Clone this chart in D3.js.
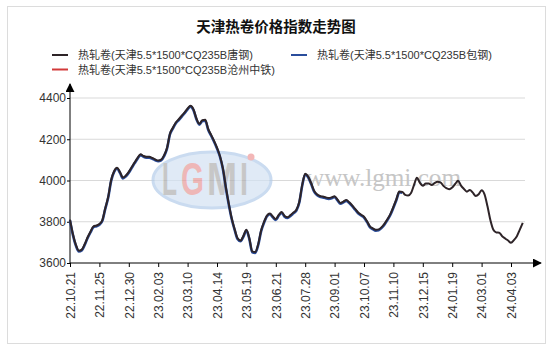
<!DOCTYPE html>
<html>
<head>
<meta charset="utf-8">
<script src="https://cdn.jsdelivr.net/npm/d3@7"></script>
<style>
  body { margin: 0; background: #fff; }
  svg { display: block; font-family: 'Liberation Sans', 'Noto Sans CJK SC', sans-serif; }
</style>
</head>
<body>
<svg id="chart" width="554" height="355"></svg>
<script>
const title = '天津热卷价格指数走势图';
const seriesNames = [
  '热轧卷(天津5.5*1500*CQ235B唐钢)',
  '热轧卷(天津5.5*1500*CQ235B包钢)',
  '热轧卷(天津5.5*1500*CQ235B沧州中铁)',
];
const tickLabels = ['22.10.21', '22.11.25', '22.12.30', '23.02.03', '23.03.10', '23.04.14',
  '23.05.19', '23.06.21', '23.07.28', '23.09.01', '23.10.07', '23.11.10', '23.12.15',
  '24.01.19', '24.03.01', '24.04.03'];
const pointsPerTick = 10;
const yTicks = [3600, 3800, 4000, 4200, 4400];

// 唐钢
const tangValues = [
  3810, 3739, 3688, 3660, 3665, 3691, 3725, 3753, 3778, 3782,
  3789, 3808, 3866, 3921, 4002, 4045, 4062, 4041, 4014, 4024,
  4042, 4065, 4088, 4110, 4127, 4119, 4115, 4115, 4109, 4102,
  4097, 4101, 4122, 4158, 4227, 4256, 4281, 4297, 4314, 4330,
  4349, 4362, 4345, 4301, 4275, 4292, 4294, 4250, 4221, 4192,
  4159, 4119, 4060, 3969, 3888, 3817, 3764, 3720, 3709, 3732,
  3761, 3720, 3656, 3653, 3690, 3757, 3799, 3830, 3840, 3825,
  3813, 3833, 3847, 3828, 3822, 3832, 3845, 3858, 3897, 3980,
  4033, 4019, 3988, 3951, 3933, 3925, 3922, 3918, 3915, 3918,
  3924, 3907, 3891, 3898, 3905, 3894, 3879, 3862, 3845, 3834,
  3824, 3803, 3778, 3768, 3761, 3763, 3774, 3791, 3813, 3838,
  3872, 3908, 3947, 3945, 3930, 3927, 3939, 3978, 4013, 3990,
  3974, 3985, 3985, 3978, 3987, 3994, 3991, 3974, 3963, 3958,
  3966, 3983, 3999, 3975, 3959, 3946, 3954, 3941, 3925, 3933,
  3953, 3933, 3875, 3807, 3761, 3748, 3747, 3730, 3719, 3709,
  3698, 3711, 3730, 3762, 3795,
];
// 包钢 runs under the black line and stops around 23.12
const baoValues = [
  3810, 3739, 3688, 3660, 3665, 3691, 3725, 3753, 3778, 3782,
  3789, 3808, 3866, 3921, 4002, 4045, 4062, 4041, 4014, 4024,
  4042, 4065, 4088, 4110, 4127, 4119, 4115, 4115, 4109, 4102,
  4097, 4101, 4122, 4158, 4227, 4256, 4281, 4297, 4314, 4330,
  4349, 4362, 4345, 4301, 4275, 4292, 4294, 4250, 4221, 4192,
  4159, 4119, 4060, 3969, 3888, 3817, 3764, 3720, 3709, 3732,
  3761, 3720, 3656, 3653, 3690, 3757, 3799, 3830, 3840, 3825,
  3813, 3833, 3847, 3828, 3822, 3832, 3845, 3858, 3897, 3980,
  4033, 4019, 3988, 3951, 3933, 3925, 3922, 3918, 3915, 3918,
  3924, 3907, 3891, 3898, 3905, 3894, 3879, 3862, 3845, 3834,
  3824, 3803, 3778, 3768, 3761, 3763, 3774, 3791, 3813, 3838,
  3872, 3908, 3947, 3945,
];
// 沧州中铁 has nothing visible on the chart
const cangValues = [];

const colors = ['#2e2428', '#2a4d9c', '#d23a3a'];
const series = [cangValues, baoValues, tangValues];
const seriesColors = [colors[2], colors[1], colors[0]];

const plot = {left: 70, right: 525, top: 98, bottom: 263};

const svg = d3.select('#chart');

// frame
svg.append('rect')
  .attr('x', 7.5).attr('y', 6.5)
  .attr('width', 538).attr('height', 337)
  .attr('fill', 'none')
  .attr('stroke', '#dcdcdc');

svg.append('text')
  .attr('x', 276).attr('y', 32)
  .attr('text-anchor', 'middle')
  .attr('font-size', 14.5)
  .attr('font-weight', 'bold')
  .attr('fill', '#111')
  .text(title);

// legend: two on the first row, one on the second
const legendSlots = [{x: 52, y: 55}, {x: 291, y: 55}, {x: 52, y: 69.5}];
const legend = svg.append('g')
  .selectAll('g')
  .data(seriesNames)
  .join('g')
  .attr('transform', (_, i) => `translate(${legendSlots[i].x},${legendSlots[i].y})`);
legend.append('line')
  .attr('x2', 16)
  .attr('stroke', (_, i) => colors[i])
  .attr('stroke-width', 2);
legend.append('text')
  .attr('x', 26).attr('y', 4)
  .attr('font-size', 11)
  .attr('fill', '#333')
  .text(d => d);

const x = d3.scaleLinear()
  .domain([0, (tickLabels.length - 1) * pointsPerTick])
  .range([plot.left, 511]);
const y = d3.scaleLinear()
  .domain([yTicks[0], yTicks[yTicks.length - 1]])
  .range([plot.bottom, plot.top]);

// horizontal grid
svg.append('g')
  .selectAll('line')
  .data(yTicks.slice(1))
  .join('line')
  .attr('x1', plot.left).attr('x2', plot.right)
  .attr('y1', d => y(d)).attr('y2', d => y(d))
  .attr('stroke', '#d9d9d9');

// LGMI watermark. Each letter is squeezed with a transform so the
// boxes of the letters stay apart.
const mark = svg.append('g').attr('opacity', 0.7);
mark.append('ellipse')
  .attr('cx', 212).attr('cy', 180)
  .attr('rx', 59).attr('ry', 28)
  .attr('fill', '#d3e2f3')
  .attr('stroke', '#b4cdea')
  .attr('stroke-width', 3);
const logoLetters = [
  {c: 'L', x: 162, w: 15, fill: '#b0b0b0'},
  {c: 'G', x: 181, w: 23, fill: '#e79a9a'},
  {c: 'M', x: 207, w: 30, fill: '#b0b0b0'},
  {c: 'I', x: 240, w: 8, fill: '#b0b0b0'},
];
mark.selectAll('text.logo')
  .data(logoLetters)
  .join('text')
  .classed('logo', true)
  .attr('font-size', 46)
  .attr('font-weight', 'bold')
  .attr('fill', d => d.fill)
  .text(d => d.c)
  .attr('transform', function(d) {
    const box = this.getBBox();
    const sx = d.w / box.width;
    return `translate(${d.x},195) scale(${sx},1) translate(${-box.x},0)`;
  });
mark.append('circle')
  .attr('cx', 251).attr('cy', 157).attr('r', 3.5)
  .attr('fill', '#ee9a9a');
svg.append('text')
  .attr('x', 306).attr('y', 186)
  .attr('font-family', "'Liberation Serif', serif")
  .attr('font-size', 26)
  .attr('textLength', 155)
  .attr('lengthAdjust', 'spacingAndGlyphs')
  .attr('fill', '#c6c6c6')
  .text('www.lgmi.com');

// axes
svg.append('defs').append('marker')
  .attr('id', 'arrow')
  .attr('viewBox', '0 0 10 10')
  .attr('refX', 9).attr('refY', 5)
  .attr('markerWidth', 9).attr('markerHeight', 9)
  .attr('markerUnits', 'userSpaceOnUse')
  .attr('orient', 'auto')
  .append('path')
  .attr('d', 'M0,0L10,5L0,10z')
  .attr('fill', '#000');

const yAxis = svg.append('g')
  .attr('transform', `translate(${plot.left},0)`)
  .call(d3.axisLeft(y).tickValues(yTicks).tickFormat(d3.format('d')).tickSize(3).tickPadding(1))
  .call(g => g.select('.domain').remove());
yAxis.selectAll('text').attr('font-size', 12).attr('fill', '#333');

const xAxis = svg.append('g')
  .attr('transform', `translate(0,${plot.bottom})`)
  .call(d3.axisBottom(x)
    .tickValues(tickLabels.map((_, i) => i * pointsPerTick))
    .tickFormat((_, i) => tickLabels[i])
    .tickSize(4))
  .call(g => g.select('.domain').remove());
xAxis.selectAll('text')
  .attr('transform', 'rotate(-90)')
  .attr('text-anchor', 'end')
  .attr('x', -9).attr('y', 0)
  .attr('dy', '0.35em')
  .attr('font-size', 12)
  .attr('fill', '#333');

svg.append('line')
  .attr('x1', plot.left).attr('x2', plot.left)
  .attr('y1', plot.bottom).attr('y2', 84)
  .attr('stroke', '#000')
  .attr('marker-end', 'url(#arrow)');
svg.append('line')
  .attr('x1', plot.left).attr('x2', 541)
  .attr('y1', plot.bottom).attr('y2', plot.bottom)
  .attr('stroke', '#000')
  .attr('marker-end', 'url(#arrow)');

// series lines, black on top
const line = d3.line()
  .x((_, i) => x(i))
  .y(d => y(d))
  .curve(d3.curveMonotoneX);

svg.append('g')
  .selectAll('path')
  .data(series)
  .join('path')
  .attr('fill', 'none')
  .attr('stroke', (_, i) => seriesColors[i])
  .attr('stroke-width', (_, i) => i == 2 ? 2 : 2.6)
  .attr('stroke-linejoin', 'round')
  .attr('transform', (_, i) => i == 2 ? null : 'translate(0,0.8)')
  .attr('d', d => d.length ? line(d) : null);
</script>
</body>
</html>
